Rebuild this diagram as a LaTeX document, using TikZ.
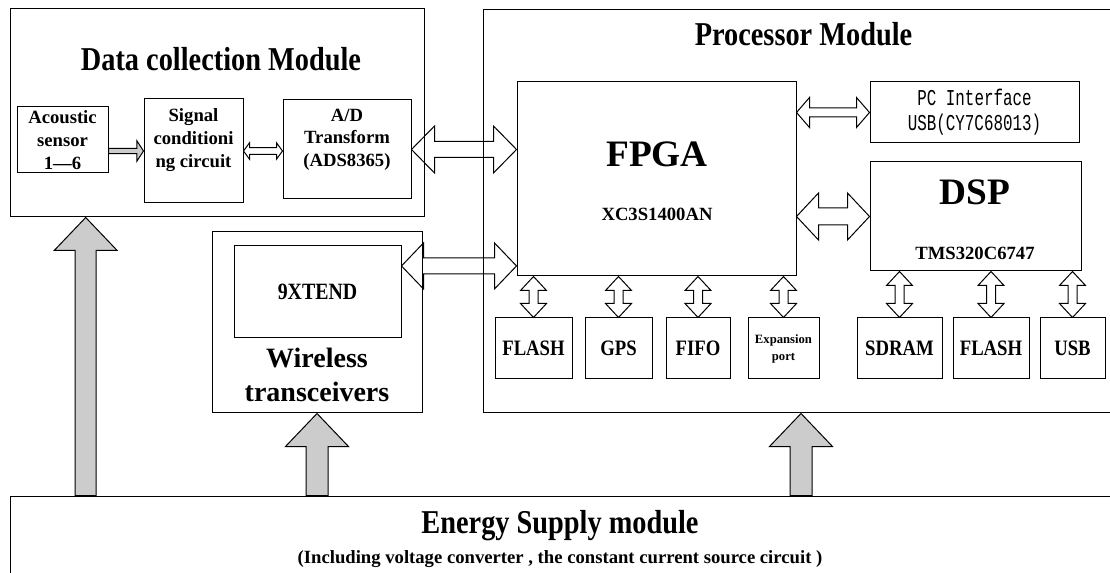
\documentclass[tikz,border=0pt]{standalone}
\usepackage{fontspec}
\setmainfont{Liberation Serif}
\newfontfamily\headfont[FakeStretch=0.85]{Liberation Serif}
\newfontfamily\pcfont[FakeStretch=0.7]{Liberation Mono}
\usetikzlibrary{calc}

\definecolor{powergray}{RGB}{204,204,204}

\tikzset{every picture/.style={line width=0.75pt}}
\tikzset{
  box/.style 2 args={draw, rectangle, inner sep=0pt, minimum width=#1*0.75pt, minimum height=#2*0.75pt},
  body/.style={font=\bfseries\fontsize{14}{17}\selectfont, align=center, inner sep=0pt},
  part/.style={font=\headfont\bfseries\fontsize{16.5}{20}\selectfont, align=center, inner sep=0pt},
  head/.style={font=\headfont\bfseries\fontsize{25}{30}\selectfont, inner sep=0pt},
  chip/.style={font=\bfseries\fontsize{28}{32}\selectfont, inner sep=0pt},
  hollow/.style={draw, line width=0.75pt},
  power/.style={draw, fill=powergray, line width=0.75pt},
}

% block arrows: style, from, to, shaft half width, head half width, head length
\newcommand{\dblH}[6]{%
  \draw[#1] (#2) -- ($(#2)+(#6,-#5)$) -- ($(#2)+(#6,-#4)$) -- ($(#3)+(-#6,-#4)$) -- ($(#3)+(-#6,-#5)$) -- (#3)
    -- ($(#3)+(-#6,#5)$) -- ($(#3)+(-#6,#4)$) -- ($(#2)+(#6,#4)$) -- ($(#2)+(#6,#5)$) -- cycle;}
\newcommand{\dblV}[6]{%
  \draw[#1] (#2) -- ($(#2)+(#5,#6)$) -- ($(#2)+(#4,#6)$) -- ($(#3)+(#4,-#6)$) -- ($(#3)+(#5,-#6)$) -- (#3)
    -- ($(#3)+(-#5,-#6)$) -- ($(#3)+(-#4,-#6)$) -- ($(#2)+(-#4,#6)$) -- ($(#2)+(-#5,#6)$) -- cycle;}
\newcommand{\oneU}[6]{%
  \draw[#1] ($(#2)+(-#4,0)$) -- ($(#3)+(-#4,#6)$) -- ($(#3)+(-#5,#6)$) -- (#3) -- ($(#3)+(#5,#6)$)
    -- ($(#3)+(#4,#6)$) -- ($(#2)+(#4,0)$) -- cycle;}
\newcommand{\oneR}[6]{%
  \draw[#1] ($(#2)+(0,-#4)$) -- ($(#3)+(-#6,-#4)$) -- ($(#3)+(-#6,-#5)$) -- (#3) -- ($(#3)+(-#6,#5)$)
    -- ($(#3)+(-#6,#4)$) -- ($(#2)+(0,#4)$) -- cycle;}

\begin{document}
\begin{tikzpicture}[x=0.75pt,y=0.75pt,yscale=-1,xscale=1]
	\useasboundingbox (0,0) rectangle (1110,573);
	\clip (0,0) rectangle (1110,573);

	%Shape: Rectangle [data collection]
	\node[box={414}{208}] (data) at (217,113) {};
	\node[box={91}{66}, body] (sensor) at (62.5,140) {Acoustic\\sensor\\1—6};
	\node[box={99}{104}] (signal) at (193.5,151) {};
	\node[box={128}{99}] (adc) at (347,149.5) {};

	%Shape: Rectangle [processor]
	\node[box={636}{403}] (proc) at (801,211.5) {};
	\node[box={279}{194}] (fpga) at (656.5,179) {};
	\node[box={209}{61}, font=\pcfont\fontsize{17}{18.75}\selectfont, align=center] (pc) at (974.5,112.5) {PC Interface\\USB(CY7C68013)};
	\node[box={211}{109}] (dsp) at (975.5,216.5) {};
	\node[box={77}{61}, part] (flasha) at (533.5,348.5) {FLASH};
	\node[box={67}{61}, part] (gps) at (618.5,348.5) {GPS};
	\node[box={64}{61}, part] (fifo) at (698,348.5) {FIFO};
	\node[box={71}{61}, body, font=\bfseries\fontsize{9.5}{12.75}\selectfont] (expport) at (783.5,348.5) {Expansion\\port};
	\node[box={85}{61}, part] (sdram) at (899.5,348.5) {SDRAM};
	\node[box={76}{61}, part] (flashb) at (991,348.5) {FLASH};
	\node[box={65}{61}, part] (usb) at (1072.5,348.5) {USB};

	%Shape: Rectangle [wireless]
	\node[box={210}{181}] (radio) at (317,322.5) {};
	\node[box={167}{92}, part, font=\headfont\bfseries\fontsize{17.5}{20}\selectfont] (xtend) at (317.5,292) {9XTEND};

	%Shape: Rectangle [energy supply]
	\node[box={1102}{80}] (energy) at (561,536) {};

	% Text Node
	\node[head, anchor=base] (datatitle) at (221,71) {Data collection Module};
	% Text Node
	\node[body] (signaltext) at (193.5,140) {Signal\\conditioni\\ng circuit};
	% Text Node
	\node[body] (adctext) at (347,139.5) {A/D\\Transform\\(ADS8365)};
	% Text Node
	\node[head, anchor=base] (proctitle) at (803.5,46) {Processor Module};
	% Text Node
	\node[chip, anchor=base] (fpganame) at (657,167) {FPGA};
	% Text Node
	\node[body, anchor=base] (fpgapart) at (657,221) {XC3S1400AN};
	% Text Node
	\node[chip, anchor=base] (dspname) at (975,205) {DSP};
	% Text Node
	\node[body, anchor=base] (dsppart) at (975,260) {TMS320C6747};
	% Text Node
	\node[font=\bfseries\fontsize{21}{25.5}\selectfont, align=center, inner sep=0pt] (radiotitle) at (317,375) {Wireless\\transceivers};
	% Text Node
	\node[head, anchor=base] (energytitle) at (560,533) {Energy Supply module};
	% Text Node
	\node[body, anchor=base] (energynote) at (560,563) {(Including voltage converter , the constant current source circuit )};

	%Block Arrows [data path]
	\oneR{power}{sensor.east |- signal.west}{signal.west}{2.7}{10.3}{6.7}
	\dblH{hollow}{signal.east}{signal.east -| adc.west}{3.3}{8.2}{6}
	\dblH{hollow}{adc.east}{adc.east -| fpga.west}{8}{23.5}{23}
	\coordinate (xtendport) at ($(xtend.north east)!0.22!(xtend.south east)$);
	\dblH{hollow}{xtendport}{xtendport -| fpga.west}{8}{23}{22}
	\dblH{hollow}{fpga.east |- pc.west}{pc.west}{4.5}{15}{13}
	\dblH{hollow}{fpga.east |- dsp.west}{dsp.west}{8.5}{23.5}{22}
	\foreach \m in {flasha,gps,fifo,expport}
		\dblV{hollow}{\m.north |- fpga.south}{\m.north}{4.5}{13}{14};
	\foreach \m in {sdram,flashb,usb}
		\dblV{hollow}{\m.north |- dsp.south}{\m.north}{4.5}{13}{14};

	%Block Arrows [power]
	\coordinate (datain) at ($(data.south west)!0.1836!(data.south east)$);
	\oneU{power}{datain |- energy.north}{datain}{10.5}{31.5}{33}
	\oneU{power}{radio.south |- energy.north}{radio.south}{11}{31.5}{33}
	\oneU{power}{proc.south |- energy.north}{proc.south}{11}{31.5}{33}

\end{tikzpicture}
\end{document}
